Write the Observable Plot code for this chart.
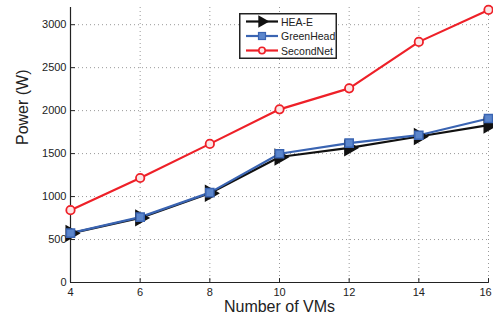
<!DOCTYPE html>
<html>
<head>
<meta charset="utf-8">
<script src="https://cdn.jsdelivr.net/npm/d3@7"></script>
<script src="https://cdn.jsdelivr.net/npm/@observablehq/plot@0.6"></script>
<style>
  html, body { margin: 0; padding: 0; background: #fff; }
  #wrap { position: relative; width: 493px; height: 323px; font-family: "Liberation Sans", Arial, sans-serif; }
  #legend { position: absolute; left: 239px; top: 13px; }
</style>
</head>
<body>
<div id="wrap"><div id="chart"></div><div id="legend"></div></div>
<script>
const vms = [4, 6, 8, 10, 12, 14, 16];
const heaE = [572, 752, 1038, 1460, 1567, 1699, 1832];
const greenHead = [575, 761, 1046, 1498, 1622, 1714, 1908];
const secondNet = [842, 1216, 1613, 2015, 2259, 2800, 3172];
const xTicks = [4, 6, 8, 10, 12, 14, 16];
const yTicks = [0, 500, 1000, 1500, 2000, 2500, 3000];
const seriesNames = ["HEA-E", "GreenHead", "SecondNet"];
const colors = {"HEA-E": "#111111", "GreenHead": "#3a64b2", "SecondNet": "#ee2028"};

const rows = [];
vms.forEach((v, i) => {
  rows.push({vms: v, power: heaE[i], s: "HEA-E"});
  rows.push({vms: v, power: greenHead[i], s: "GreenHead"});
  rows.push({vms: v, power: secondNet[i], s: "SecondNet"});
});
const by = s => rows.filter(r => r.s === s);
const tickShape = {draw(ctx, l) { ctx.moveTo(0, 0); ctx.lineTo(0, -l); }};

const chart = Plot.plot({
  width: 493,
  height: 323,
  marginLeft: 70,
  marginRight: 5,
  marginTop: 7,
  marginBottom: 41,
  style: {fontFamily: "Liberation Sans, Arial, sans-serif", fontSize: "11px", color: "#222", background: "#fff"},
  x: {domain: [4, 16], ticks: xTicks},
  y: {domain: [0, 3200], ticks: yTicks},
  marks: [
    Plot.ruleX(xTicks.slice(1), {stroke: "#999", strokeDasharray: "1,3", strokeWidth: 1}),
    Plot.ruleY(yTicks.slice(1), {stroke: "#999", strokeDasharray: "1,3", strokeWidth: 1}),
    Plot.axisX({ticks: xTicks.slice(0, -1), tickSize: 0, tickPadding: 6, label: null, fontSize: 11, fill: "#222", tickFormat: d => String(d)}),
    Plot.axisX({ticks: xTicks.slice(-1), tickSize: 0, tickPadding: 6, dx: -3, label: null, fontSize: 11, fill: "#222", tickFormat: d => String(d)}),
    Plot.axisY({ticks: yTicks, tickSize: 0, tickPadding: 4, label: null, fontSize: 11, fill: "#222", tickFormat: d => String(d)}),
    Plot.vector(xTicks, {x: d => d, y: 0, length: 4, rotate: 0, anchor: "start", stroke: "#222", strokeWidth: 1, shape: tickShape}),
    Plot.vector(yTicks, {x: 4, y: d => d, length: 4, rotate: 90, anchor: "start", stroke: "#222", strokeWidth: 1, shape: tickShape}),
    Plot.ruleY([0], {stroke: "#222", strokeWidth: 1.2}),
    Plot.ruleX([4], {stroke: "#222", strokeWidth: 1.2}),
    Plot.line(by("HEA-E"), {x: "vms", y: "power", stroke: colors["HEA-E"], strokeWidth: 2.2}),
    Plot.line(by("GreenHead"), {x: "vms", y: "power", stroke: colors["GreenHead"], strokeWidth: 2.2}),
    Plot.line(by("SecondNet"), {x: "vms", y: "power", stroke: colors["SecondNet"], strokeWidth: 2.2}),
    Plot.dot(by("HEA-E"), {x: "vms", y: "power", symbol: "triangle", rotate: 90, r: 5.5, fill: colors["HEA-E"], stroke: colors["HEA-E"]}),
    Plot.dot(by("GreenHead"), {x: "vms", y: "power", symbol: "square", r: 4.6, fill: "#5b86cc", stroke: colors["GreenHead"], strokeWidth: 1.5}),
    Plot.dot(by("SecondNet"), {x: "vms", y: "power", symbol: "circle", r: 4.2, fill: "#fbe6e6", stroke: colors["SecondNet"], strokeWidth: 1.8}),
    Plot.text(["Number of VMs"], {frameAnchor: "bottom", dy: 29, fontSize: 16, fill: "#222"}),
    Plot.text(["Power (W)"], {frameAnchor: "left", dx: -48, rotate: -90, fontSize: 16, fill: "#222"})
  ]
});
document.getElementById("chart").appendChild(chart);

// legend
const lw = 98, lh = 46;
const lg = d3.select("#legend").append("svg").attr("width", lw).attr("height", lh)
  .style("font-family", "Liberation Sans, Arial, sans-serif");
lg.append("rect").attr("x", 0.75).attr("y", 0.75).attr("width", lw - 1.5).attr("height", lh - 1.5)
  .attr("fill", "#fff").attr("stroke", "#222").attr("stroke-width", 1.5);
seriesNames.forEach((s, i) => {
  const y = 8.5 + i * 14.5;
  lg.append("line").attr("x1", 7).attr("x2", 39).attr("y1", y).attr("y2", y)
    .attr("stroke", colors[s]).attr("stroke-width", 2.2);
  if (s === "HEA-E") {
    lg.append("path").attr("d", d3.symbol(d3.symbolTriangle, 70)()).attr("transform", `translate(23,${y}) rotate(90)`).attr("fill", colors[s]);
  } else if (s === "GreenHead") {
    lg.append("rect").attr("x", 19.5).attr("y", y - 3.5).attr("width", 7).attr("height", 7).attr("fill", "#5b86cc").attr("stroke", colors[s]).attr("stroke-width", 1.2);
  } else {
    lg.append("circle").attr("cx", 23).attr("cy", y).attr("r", 3.2).attr("fill", "#fbe6e6").attr("stroke", colors[s]).attr("stroke-width", 1.6);
  }
  lg.append("text").attr("x", 42).attr("y", y + 4).attr("font-size", 10.5).attr("fill", "#222").text(s);
});
</script>
</body>
</html>
